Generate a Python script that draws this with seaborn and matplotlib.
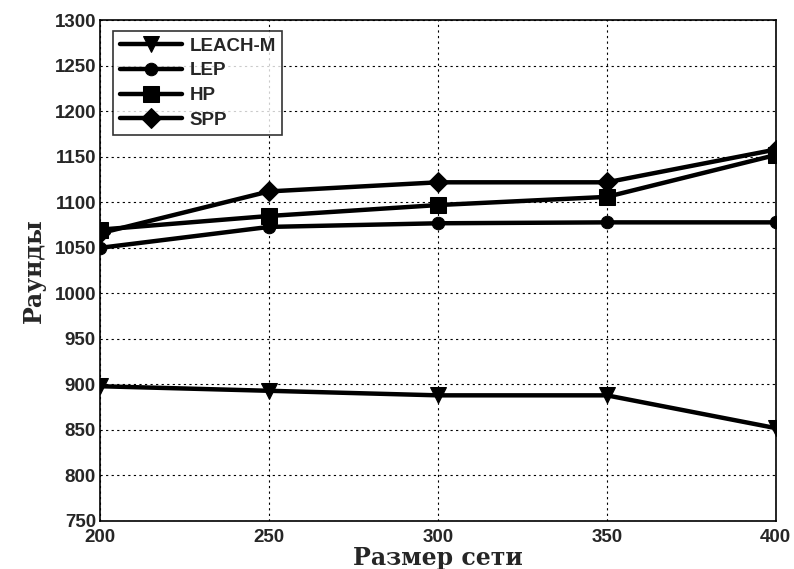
import matplotlib
matplotlib.use("Agg")
import matplotlib.pyplot as plt
import seaborn as sns
import pandas as pd

sizes = [200, 250, 300, 350, 400]
leach_m = [898, 893, 888, 888, 852]
lep = [1050, 1073, 1077, 1078, 1078]
hp = [1070, 1085, 1097, 1106, 1152]
spp = [1066, 1112, 1122, 1122, 1158]
series_names = ["LEACH-M", "LEP", "HP", "SPP"]
yticks = list(range(750, 1301, 50))

df = pd.DataFrame({
    "x": sizes * 4,
    "y": leach_m + lep + hp + spp,
    "s": [n for n in series_names for _ in sizes],
})

sns.set_style("white")
plt.rcParams['font.family'] = ['Liberation Sans', 'DejaVu Sans']

fig = plt.figure(figsize=(7.94, 5.69), dpi=100)
ax = fig.add_axes([0.126, 0.0844, 0.851, 0.880])

markers = {"LEACH-M": "v", "LEP": "o", "HP": "s", "SPP": "D"}
sizes_m = {"LEACH-M": 12, "LEP": 9, "HP": 11, "SPP": 10}
for name in series_names:
    sub = df[df.s == name]
    sns.lineplot(data=sub, x="x", y="y", ax=ax, color="black", linewidth=3.2,
                 marker=markers[name], markersize=sizes_m[name],
                 markeredgecolor="black", label=name)

ax.set_xlim(200, 400)
ax.set_ylim(750, 1300)
ax.set_xticks(sizes)
ax.set_yticks(yticks)
ax.set_xticklabels([str(v) for v in sizes], fontsize=13.5, fontweight="bold")
ax.set_yticklabels([str(v) for v in yticks], fontsize=13.5, fontweight="bold")
ax.grid(True, color="black", linestyle=(0, (2, 3)), linewidth=0.8)
for sp in ax.spines.values():
    sp.set_color("black")
    sp.set_linewidth(1.2)
ax.tick_params(axis="y", direction="in", length=5, color="black", pad=3)
ax.tick_params(axis="x", direction="in", length=5, color="black", pad=6)
ax.set_xlabel("Размер сети", fontsize=17, fontweight="bold",
              family=["DejaVu Serif"], labelpad=0)
ax.set_ylabel("Раунды", fontsize=17, fontweight="bold",
              family=["DejaVu Serif"], labelpad=6)

leg = ax.legend(loc="upper left", frameon=True, fancybox=False,
                edgecolor="black", prop={"weight": "bold", "size": 13.5},
                handlelength=3.3, handletextpad=0.4, borderpad=0.35,
                labelspacing=0.4, bbox_to_anchor=(0.006, 0.997))
leg.get_frame().set_linewidth(1.2)

fig.savefig("out.png", dpi=100)
